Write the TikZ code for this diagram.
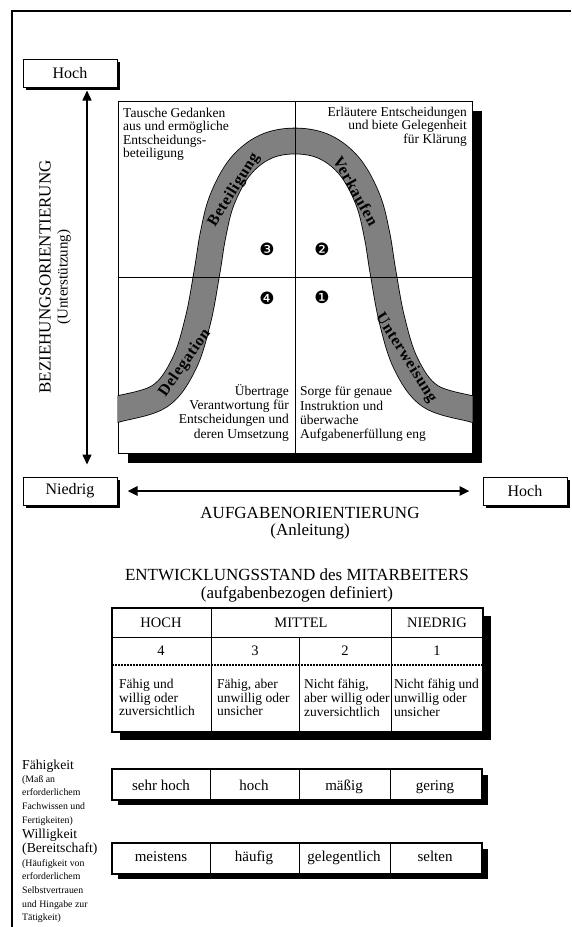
\documentclass[tikz,border=0pt]{standalone}
\usepackage{fontspec}
\setmainfont{Liberation Serif}
\newfontfamily\dingfont{DejaVu Sans}
\newfontfamily\bandfont[LetterSpace=4]{Liberation Serif}
\usetikzlibrary{arrows.meta,shadows}

\tikzset{
  kasten/.style={draw, line width=1pt, fill=white, inner sep=0pt,
    minimum height=28pt, font=\fontsize{16}{16}\selectfont,
    drop shadow={shadow xshift=3pt, shadow yshift=-3pt, fill=black, opacity=1}},
  achse/.style={inner sep=0pt, font=\fontsize{17}{17}\selectfont},
  quadtext/.style={inner sep=0pt, font=\fontsize{13.5}{13.3}\selectfont},
  bandtext/.style={inner sep=0pt, font=\bandfont\fontsize{16}{16}\selectfont\bfseries},
  stil/.style={inner sep=0pt, font=\dingfont\fontsize{17}{17}\selectfont},
  zelle/.style={inner sep=0pt, font=\fontsize{14.5}{14.5}\selectfont},
  zelltext/.style={inner sep=0pt, anchor=north west, align=left,
    font=\fontsize{13.5}{13.7}\selectfont},
  leiste/.style={inner sep=0pt, anchor=base, font=\fontsize{15}{15}\selectfont},
  notiz/.style={inner sep=0pt, anchor=north west, align=left,
    font=\fontsize{9.8}{13.7}\selectfont}
}

\begin{document}
\begin{tikzpicture}[x=1pt, y=-1pt, >={Triangle[length=10pt,width=9pt]}]
  \useasboundingbox (0,0) rectangle (571,927);
  % Rahmen
  \draw[line width=1.2pt] (12,927) -- (12,11) -- (571,11);

  % Achsen
  \node[kasten, minimum width=94pt] (hochY) at (70,73) {Hoch};
  \node[kasten, minimum width=94pt] (niedrig) at (70,491) {Niedrig};
  \node[kasten, minimum width=84pt] (hochX) at (525,491) {Hoch};
  \coordinate (vx) at (87,0);
  \draw[<->, line width=1.5pt, shorten <=3pt, shorten >=12pt] (hochY.south -| vx) -- (niedrig.north -| vx);
  \draw[<->, line width=2.5pt, shorten <=10pt, shorten >=13pt] (niedrig.east) -- (hochX.west);

  \node[achse, rotate=90] (bezlabel) at (45,277) {BEZIEHUNGSORIENTIERUNG};
  \node[inner sep=0pt, rotate=90, font=\fontsize{15}{15}\selectfont] (unterst) at (64,277) {(Unterstützung)};
  \node[achse] (aufglabel) at (310,512.5) {AUFGABENORIENTIERUNG};
  \node[achse] (anleit) at (310,531) {(Anleitung)};

  % Quadranten
  \node[draw, line width=1pt, fill=white, inner sep=0pt, minimum width=354pt, minimum height=352pt,
    drop shadow={shadow xshift=10pt, shadow yshift=-10pt, fill=black, opacity=1}] (quad) at (295,277) {};
  \begin{scope}
    \clip (quad.south west) rectangle (quad.north east);
    \draw[line width=0.8pt, double=black!50, double distance=25pt]
      plot[smooth, tension=0.6] coordinates {(108,411) (118,409) (160,396) (184,364) (198,320) (207,272)
        (213,235) (222,200) (240,167) (265,147) (295,141) (325,147) (350,167) (368,200) (377,235)
        (383,272) (392,320) (406,364) (430,396) (472,409) (482,411)};
  \end{scope}
  \draw[line width=1pt] (quad.north) -- (quad.south);
  \draw[line width=1pt] (quad.west) -- (quad.east);

  \node[bandtext, rotate=58] (beteil) at (234,190) {Beteiligung};
  \node[bandtext, rotate=-61] (verkauf) at (356,191) {Verkaufen};
  \node[bandtext, rotate=55] (delegat) at (185,363) {Delegation};
  \node[bandtext, rotate=-58] (unterw) at (406,358) {Unterweisung};

  \node[stil] (s3) at (267,249) {❸};
  \node[stil] (s2) at (322,249) {❷};
  \node[stil] (s4) at (267,298) {❹};
  \node[stil] (s1) at (322,297) {❶};

  \node[quadtext, anchor=north west, align=left] (texttl) at (123,108)
    {Tausche Gedanken\\aus und ermögliche\\Entscheidungs-\\beteiligung};
  \node[quadtext, anchor=north east, align=right] (texttr) at (467,107)
    {Erläutere Entscheidungen\\und biete Gelegenheit\\für Klärung};
  \node[quadtext, anchor=north east, align=right, font=\fontsize{13.5}{14.3}\selectfont] (textbl) at (289,384)
    {Übertrage\\Verantwortung für\\Entscheidungen und\\deren Umsetzung};
  \node[quadtext, anchor=north west, align=left, font=\fontsize{13.5}{14.3}\selectfont] (textbr) at (300,386)
    {Sorge für genaue\\Instruktion und\\überwache\\Aufgabenerfüllung eng};

  % Entwicklungsstand
  \node[achse] (entw) at (297,575) {ENTWICKLUNGSSTAND des MITARBEITERS};
  \node[achse] (entwdef) at (297,594) {(aufgabenbezogen definiert)};

  \fill (120,616) rectangle (491,740);
  \draw[fill=white, line width=1.2pt] (112,608) rectangle (483,732);
  \draw[line width=1pt] (112,637) -- (483,637);
  \draw[line width=1.2pt, dash pattern=on 2pt off 1pt] (112,665) -- (483,665);
  \foreach \x in {211,391}
    \draw[line width=1pt] (\x,608) -- (\x,732);
  \draw[line width=1pt] (299,637) -- (299,732);

  \node[zelle] (kopfhoch) at (161,623) {HOCH};
  \node[zelle] (kopfmittel) at (301,623) {MITTEL};
  \node[zelle] (kopfniedrig) at (437,623) {NIEDRIG};
  \foreach \x/\n in {161/4, 255/3, 345/2, 437/1}
    \node[zelle] (stufe\n) at (\x,651) {\n};

  \node[zelltext] (besch4) at (119,679) {Fähig und\\willig oder\\zuversichtlich};
  \node[zelltext] (besch3) at (217,679) {Fähig, aber\\unwillig oder\\unsicher};
  \node[zelltext] (besch2) at (304,679) {Nicht fähig,\\aber willig oder\\zuversichtlich};
  \node[zelltext] (besch1) at (394,679) {Nicht fähig und\\unwillig oder\\unsicher};

  % Faehigkeit / Willigkeit
  \foreach \y in {769,843} {
    \fill (118,\y+6) rectangle (488,\y+36);
    \draw[fill=white, line width=1.2pt] (112,\y) rectangle (482,\y+31);
    \foreach \x in {210,299,390}
      \draw[line width=1pt] (\x,\y) -- (\x,\y+31);
  }
  \foreach \x/\t [count=\i] in {161/sehr hoch, 254/hoch, 344/mäßig, 435/gering}
    \node[leiste] (faeh\i) at (\x,790) {\t};
  \foreach \x/\t [count=\i] in {161/meistens, 254/häufig, 344/gelegentlich, 435/selten}
    \node[leiste] (will\i) at (\x,861) {\t};

  \node[inner sep=0pt, anchor=north west, font=\fontsize{13.7}{14}\selectfont] (faehig) at (22,759.5) {Fähigkeit};
  \node[notiz] (faehnotiz) at (22,775) {(Maß an\\erforderlichem\\Fachwissen und\\Fertigkeiten)};
  \node[inner sep=0pt, anchor=north west, align=left, font=\fontsize{13.7}{14}\selectfont] (willig) at (22,828.5)
    {Willigkeit\\(Bereitschaft)};
  \node[notiz] (willnotiz) at (22,859) {(Häufigkeit von\\erforderlichem\\Selbstvertrauen\\und Hingabe zur\\Tätigkeit)};
\end{tikzpicture}
\end{document}
